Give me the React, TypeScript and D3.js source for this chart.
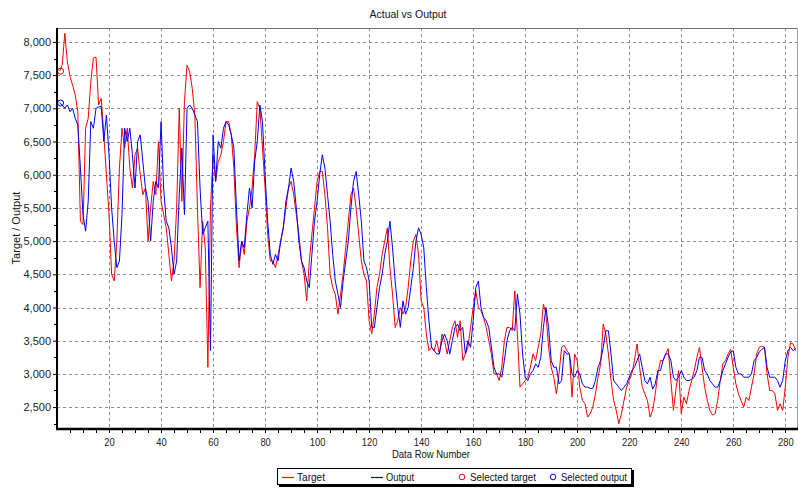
import React, { useEffect, useRef } from 'react';
import * as d3 from 'd3';

// values, row 1..284
const target = [
  7560, 7650, 8130, 7700, 7480, 7350, 7200, 6950, 5300, 5250,
  6700, 6850, 7400, 7760, 7770, 7050, 7150, 6600, 6000, 5400,
  4500, 4400, 5000, 6100, 6700, 6400, 6700, 6100, 5800, 6300,
  6400, 6000, 5700, 5800, 5000, 5500, 5900, 5700, 6500, 5600,
  5400, 5200, 4800, 4400, 4700, 5500, 7000, 5600, 7100, 7650,
  7550, 7300, 6900, 5500, 4300, 5300, 4900, 3100, 5500, 6300,
  5900, 6200, 6300, 6500, 6800, 6800, 6600, 6100, 5200, 4600,
  5000, 4800, 5300, 5500, 5800, 6300, 7100, 7000, 6400, 5800,
  5100, 4700, 4700, 4600, 4800, 5000, 5200, 5500, 5800, 5900,
  5700, 5400, 5100, 4700, 4500, 4100, 4700, 5100, 5500, 5900,
  6050, 6050, 5700, 5200, 4500, 4300, 4200, 3900, 4200, 4500,
  4900, 5300, 5700, 5800, 5500, 5100, 4700, 4500, 4400, 3800,
  3600, 3900, 4300, 4500, 4800, 5000, 5200, 4600, 4200, 3700,
  3800, 4000, 3900, 4000, 4300, 4700, 5000, 5100, 4800, 4100,
  4000, 3600, 3350, 3400, 3350, 3500, 3300, 3600, 3500, 3300,
  3500, 3700, 3800, 3550, 3800, 3200, 3300, 3400, 3700, 4000,
  4250, 4000, 3950, 3850, 3700, 3500, 3300, 3000, 3000, 2900,
  3100, 3500, 3700, 3700, 3650, 4250, 3600, 2800, 2850, 2900,
  2950, 3100, 3300, 3200, 3400, 3600, 4050, 3900, 3400, 3100,
  2950, 2700, 3000, 3400, 3430, 3350, 3300, 2650, 3300, 3200,
  2800, 2600, 2550, 2350, 2400, 2500, 2700, 2950, 3150, 3750,
  3600, 3300, 2900, 2600, 2450, 2250, 2400, 2600, 2800, 2900,
  3000, 3200, 3450, 3100, 2800, 2700, 2600, 2350, 2450, 2700,
  3000, 3200, 3200, 3300, 3380, 2900, 2450, 2780, 3050, 2400,
  2650, 2550, 2750, 2900, 3050, 3250, 3400, 3100, 2800, 2600,
  2450, 2380, 2400, 2600, 2900, 3150, 3200, 3300, 3370, 3100,
  2850, 2700, 2600, 2500, 2650, 2600, 2800, 3000, 3300, 3400,
  3420, 3400, 3000, 2750, 2750, 2700, 2450, 2550, 2450, 2800,
  3250, 3470, 3450, 3350,
];

const output = [
  7080, 7050, 7000, 7050, 6950, 7000, 6850, 6750, 6100, 5400,
  5150, 5600, 6800, 6700, 7000, 7020, 7030, 6500, 6900, 6300,
  5500, 5000, 4600, 4700, 5400, 6700, 6500, 6700, 6300, 5800,
  6500, 6600, 6200, 5800, 5600, 5000, 5600, 5900, 5800, 6800,
  5800, 5300, 5200, 4900, 4500, 4700, 5700, 6400, 5400, 7000,
  7050, 7000, 6900, 6800, 5800, 5100, 5200, 5300, 3350, 6600,
  5900, 6500, 6400, 6700, 6800, 6750, 6600, 6400, 5500, 4700,
  5000, 4900, 5400, 5800, 5500, 6200, 6500, 7050, 6800, 6000,
  5300, 4800, 4650, 4800, 4700, 5000, 5200, 5600, 5800, 6100,
  5900, 5500, 5000, 4700, 4600, 4400, 4300, 4800, 5300, 5600,
  6000, 6300, 6100, 5700, 5300, 4800, 4400, 4200, 4000, 4400,
  4700, 5000, 5500, 5900, 6050, 5700, 5300, 4700, 4600, 4400,
  3700, 3700, 4000, 4300, 4500, 4800, 5000, 5300, 4900, 4400,
  4000, 3700, 4100, 3900, 4000, 4300, 4600, 5000, 5200, 5100,
  4900, 4300, 3800, 3400, 3350, 3300, 3300, 3500, 3600, 3500,
  3300, 3500, 3700, 3750, 3650, 3700, 3300, 3500, 3400, 3800,
  4300, 4400, 4000, 3850, 3800, 3700, 3400, 3100, 3000, 3000,
  2950, 3200, 3500, 3650, 3700, 3650, 4200, 3900, 3300, 2950,
  2900, 3000, 3050, 3150, 3100, 3250, 3700, 4000, 3700, 3200,
  3100, 3100, 2850, 2900, 3350, 3300, 3300, 3000, 2950, 3050,
  3000, 2850, 2800, 2800, 2780, 2780, 2900, 3100, 3200, 3400,
  3650, 3650, 3300, 2900, 2850, 2800, 2750, 2800, 2850, 2950,
  3050, 3100, 3200, 3300, 3100, 2900, 2850, 2950, 2770, 2850,
  3050, 3050, 3200, 3300, 3300, 3200, 2950, 2900, 2950, 3050,
  2950, 2900, 2900, 2920, 2950, 3050, 3250, 3250, 3050, 3000,
  2900, 2850, 2800, 2800, 2900, 3050, 3150, 3250, 3330, 3350,
  3100, 3000, 3000, 2950, 2950, 2950, 3000, 3200, 3250, 3330,
  3370, 3400, 3100, 2950, 2950, 2950, 2900, 2800, 2900, 3200,
  3350, 3400, 3350, 3380,
];

const yTicks = [2500, 3000, 3500, 4000, 4500, 5000, 5500, 6000, 6500, 7000, 7500, 8000];
const xTicks = [20, 40, 60, 80, 100, 120, 140, 160, 180, 200, 220, 240, 260, 280];
const selectedRow = 0;

const legendItems = [
  { label: 'Target', kind: 'line', color: '#ff0000', x: 282, w: 28 },
  { label: 'Output', kind: 'line', color: '#0000ff', x: 371, w: 28 },
  { label: 'Selected target', kind: 'circle', color: '#ff0000', x: 459, w: 66 },
  { label: 'Selected output', kind: 'circle', color: '#0000ff', x: 550, w: 66 },
];

const W = 799;
const H = 489;
const font = '"Liberation Sans", Arial, sans-serif';

const Chart = () => {
  const ref = useRef<SVGSVGElement>(null);

  useEffect(() => {
    const svg = d3.select(ref.current);
    svg.selectAll('*').remove();

    const left = 57, right = 797, top = 28, bottom = 429;

    const x = d3.scaleLinear().domain([0, 284.5]).range([left, right]);
    const y = d3.scaleLinear().domain([2170, 8210]).range([bottom, top]);

    svg.append('rect').attr('width', W).attr('height', H).attr('fill', '#fff');

    // dashed grid
    const grid = svg.append('g').attr('stroke', '#8c8c8c').attr('stroke-dasharray', '3,3');
    grid.selectAll('.gy').data(yTicks).enter().append('line')
      .attr('x1', left).attr('x2', right)
      .attr('y1', d => Math.round(y(d)) + 0.5).attr('y2', d => Math.round(y(d)) + 0.5);
    grid.selectAll('.gx').data(xTicks).enter().append('line')
      .attr('y1', top).attr('y2', bottom)
      .attr('x1', d => Math.round(x(d)) + 0.5).attr('x2', d => Math.round(x(d)) + 0.5);

    // frame top/right
    svg.append('line').attr('x1', left).attr('x2', right).attr('y1', top + 0.5).attr('y2', top + 0.5)
      .attr('stroke', '#707070');
    svg.append('line').attr('x1', right + 0.5).attr('x2', right + 0.5).attr('y1', top).attr('y2', bottom)
      .attr('stroke', '#a0a0a0');

    svg.append('clipPath').attr('id', 'plot-clip').append('rect')
      .attr('x', left).attr('y', top).attr('width', right - left).attr('height', bottom - top);

    const line = d3.line<number>()
      .x((_, i) => x(i + 1))
      .y(d => y(d));

    const plot = svg.append('g').attr('clip-path', 'url(#plot-clip)');
    plot.append('path').datum(target)
      .attr('d', line).attr('fill', 'none').attr('stroke', '#ff0000').attr('stroke-width', 1);
    plot.append('path').datum(output)
      .attr('d', line).attr('fill', 'none').attr('stroke', '#0000ff').attr('stroke-width', 1);

    // selected points
    svg.append('circle').attr('cx', x(selectedRow + 1) + 1).attr('cy', y(target[selectedRow]))
      .attr('r', 3).attr('fill', 'none').attr('stroke', '#ff0000');
    svg.append('circle').attr('cx', x(selectedRow + 1) + 1).attr('cy', y(output[selectedRow]))
      .attr('r', 3).attr('fill', 'none').attr('stroke', '#0000ff');

    // y axis
    const yAxis = svg.append('g').attr('transform', `translate(${left},0)`)
      .call(d3.axisLeft(y).tickValues(yTicks).tickFormat(d3.format(',')).tickSize(4));
    yAxis.select('.domain').remove();
    yAxis.selectAll('text').attr('font-family', font).attr('font-size', 11).attr('fill', '#222').attr('x', -6);
    yAxis.selectAll('line').attr('stroke', '#000');

    const minorY = d3.range(2250, 8201, 250).filter(v => v % 500 !== 0);
    svg.append('g').selectAll('line').data(minorY).enter().append('line')
      .attr('x1', left - 3).attr('x2', left)
      .attr('y1', d => Math.round(y(d)) + 0.5).attr('y2', d => Math.round(y(d)) + 0.5)
      .attr('stroke', '#000');

    // x axis (labels are narrow in the original)
    const xAxis = svg.append('g').attr('transform', `translate(0,${bottom})`)
      .call(d3.axisBottom(x).tickValues(xTicks).tickSize(0).tickPadding(9));
    xAxis.select('.domain').remove();
    xAxis.selectAll('text').attr('font-family', font).attr('font-size', 11).attr('fill', '#222')
      .attr('textLength', (d: any) => String(d).length * 5.2)
      .attr('lengthAdjust', 'spacingAndGlyphs');

    const minorX = d3.range(5, 285, 5);
    svg.append('g').selectAll('line').data(minorX).enter().append('line')
      .attr('x1', d => Math.round(x(d)) + 0.5).attr('x2', d => Math.round(x(d)) + 0.5)
      .attr('y1', bottom).attr('y2', bottom + 4)
      .attr('stroke', '#000');

    svg.append('line').attr('x1', left).attr('x2', left).attr('y1', top).attr('y2', bottom + 1)
      .attr('stroke', '#000').attr('stroke-width', 2);
    svg.append('line').attr('x1', left - 1).attr('x2', right + 1).attr('y1', bottom).attr('y2', bottom)
      .attr('stroke', '#000').attr('stroke-width', 2.5);

    // titles
    svg.append('text').attr('x', 408).attr('y', 18).attr('text-anchor', 'middle')
      .attr('font-family', font).attr('font-size', 10.5).attr('fill', '#111')
      .text('Actual vs Output');
    svg.append('text').attr('transform', `translate(20,228) rotate(-90)`).attr('text-anchor', 'middle')
      .attr('font-family', font).attr('font-size', 11).attr('fill', '#111')
      .text('Target / Output');
    svg.append('text').attr('x', 392).attr('y', 458)
      .attr('font-family', font).attr('font-size', 11).attr('fill', '#111')
      .attr('textLength', 78).attr('lengthAdjust', 'spacingAndGlyphs')
      .text('Data Row Number');

    // legend with shadow
    const lg = svg.append('g');
    lg.append('rect').attr('x', 279).attr('y', 470).attr('width', 355).attr('height', 17).attr('fill', '#000');
    lg.append('rect').attr('x', 277.5).attr('y', 468.5).attr('width', 354).attr('height', 16)
      .attr('fill', '#fff').attr('stroke', '#000');
    const items = lg.selectAll('.li').data(legendItems).enter().append('g');
    items.filter(d => d.kind === 'line').append('line')
      .attr('x1', d => d.x).attr('x2', d => d.x + 12).attr('y1', 477.5).attr('y2', 477.5)
      .attr('stroke', d => d.color).attr('stroke-width', 1.2);
    items.filter(d => d.kind === 'circle').append('circle')
      .attr('cx', d => d.x + 3).attr('cy', 477).attr('r', 2.8)
      .attr('fill', 'none').attr('stroke', d => d.color);
    items.append('text')
      .attr('x', d => d.x + (d.kind === 'line' ? 15 : 11)).attr('y', 481)
      .attr('font-family', font).attr('font-size', 11).attr('fill', '#111')
      .attr('textLength', d => d.w).attr('lengthAdjust', 'spacingAndGlyphs')
      .text(d => d.label);
  }, []);

  return <svg ref={ref} width={W} height={H} style={{ position: 'absolute', left: 0, top: 0 }} />;
};

export default function App() {
  return <Chart />;
}
